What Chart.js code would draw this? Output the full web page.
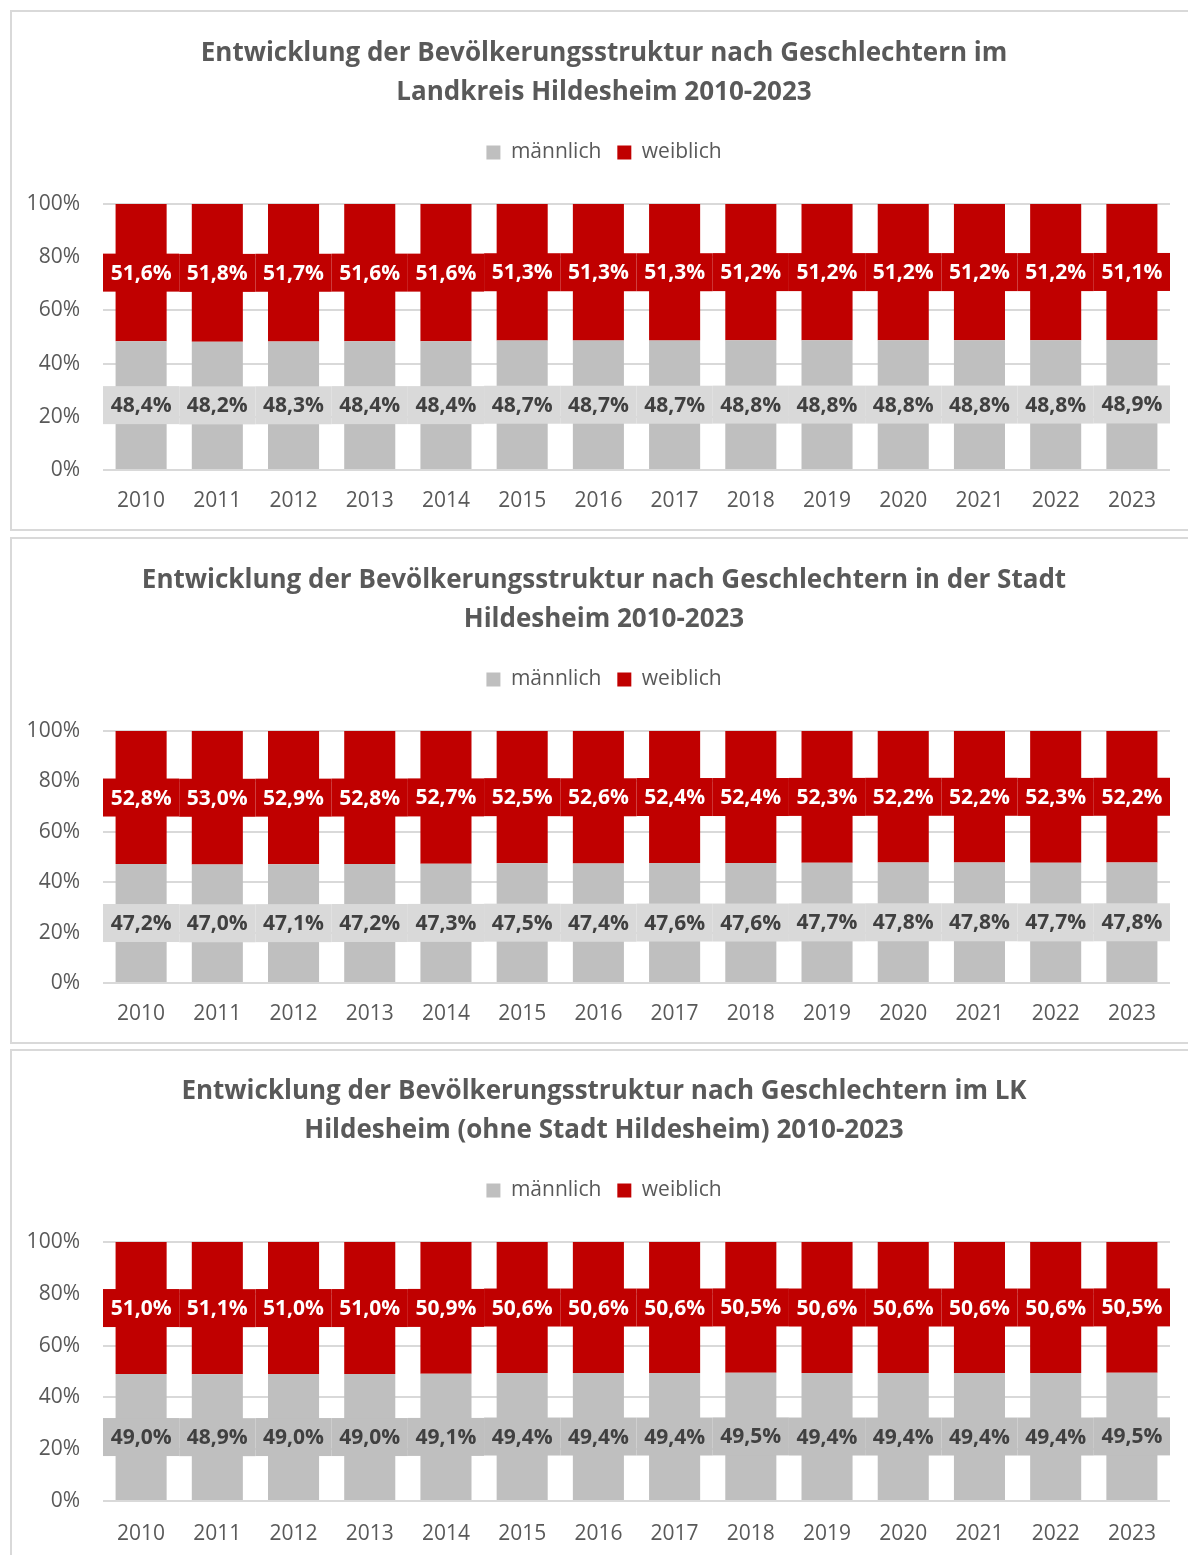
<!DOCTYPE html>
<html lang="de">
<head>
<meta charset="utf-8">
<title>Bevölkerungsstruktur nach Geschlechtern</title>
<script src="https://cdn.jsdelivr.net/npm/chart.js@4.4.1/dist/chart.umd.min.js"></script>
<style>
  html, body { margin: 0; padding: 0; background: #fff; overflow: hidden; }
  body { width: 1188px; height: 1555px; position: relative; }
  .panel { position: absolute; left: 10px; width: 1182px; border: 2px solid #d9d9d9; background: #fff; }
  .panel canvas { display: block; }
</style>
</head>
<body>
<div class="panel" style="top:10px;"><canvas id="chart-lk" width="1178" height="517"></canvas></div>
<div class="panel" style="top:537px;"><canvas id="chart-stadt" width="1178" height="503"></canvas></div>
<div class="panel" style="top:1049px;"><canvas id="chart-ohne" width="1178" height="510"></canvas></div>

<script>
const YEARS = ['2010','2011','2012','2013','2014','2015','2016','2017','2018','2019','2020','2021','2022','2023'];

// Landkreis Hildesheim
const LK_MAENNLICH = [48.4, 48.2, 48.3, 48.4, 48.4, 48.7, 48.7, 48.7, 48.8, 48.8, 48.8, 48.8, 48.8, 48.9];
const LK_WEIBLICH  = [51.6, 51.8, 51.7, 51.6, 51.6, 51.3, 51.3, 51.3, 51.2, 51.2, 51.2, 51.2, 51.2, 51.1];

// Stadt Hildesheim
const STADT_MAENNLICH = [47.2, 47.0, 47.1, 47.2, 47.3, 47.5, 47.4, 47.6, 47.6, 47.7, 47.8, 47.8, 47.7, 47.8];
const STADT_WEIBLICH  = [52.8, 53.0, 52.9, 52.8, 52.7, 52.5, 52.6, 52.4, 52.4, 52.3, 52.2, 52.2, 52.3, 52.2];

// LK ohne Stadt Hildesheim
const OHNE_MAENNLICH = [49.0, 48.9, 49.0, 49.0, 49.1, 49.4, 49.4, 49.4, 49.5, 49.4, 49.4, 49.4, 49.4, 49.5];
const OHNE_WEIBLICH  = [51.0, 51.1, 51.0, 51.0, 50.9, 50.6, 50.6, 50.6, 50.5, 50.6, 50.6, 50.6, 50.6, 50.5];

const Y_TICKS = [0, 20, 40, 60, 80, 100];

const GRAU = '#BFBFBF';
const ROT  = '#C00000';
const TEXT = '#595959';
const FONT = "'Open Sans', 'Noto Sans', sans-serif";

const fmt = v => v.toFixed(1).replace('.', ',') + '%';

// extra space below the legend
const legendGap = {
  id: 'legendGap',
  beforeInit(chart, args, opts) {
    const fit = chart.legend.fit;
    chart.legend.fit = function () {
      fit.call(this);
      this.height += opts.gap || 0;
    };
  }
};

// value labels on a box that is as wide as the category
const boxLabels = {
  id: 'boxLabels',
  afterDatasetsDraw(chart, args, opts) {
    const { ctx, chartArea } = chart;
    const catW = (chartArea.right - chartArea.left) / chart.data.labels.length;
    ctx.save();
    ctx.font = `bold 21px ${FONT}`;
    ctx.textAlign = 'center';
    ctx.textBaseline = 'middle';
    chart.data.datasets.forEach((ds, i) => {
      const meta = chart.getDatasetMeta(i);
      meta.data.forEach((bar, j) => {
        const yMid = (bar.y + bar.base) / 2;
        ctx.fillStyle = opts.bg[i];
        ctx.fillRect(bar.x - catW / 2, yMid - 19, catW, 38);
        ctx.fillStyle = opts.color[i];
        ctx.fillText(fmt(ds.data[j]), bar.x, yMid + 1);
      });
    });
    ctx.restore();
  }
};

function makeChart(id, titel, maennlich, weiblich, cfg) {
  return new Chart(document.getElementById(id), {
    type: 'bar',
    data: {
      labels: YEARS,
      datasets: [
        { label: 'männlich', data: maennlich, backgroundColor: GRAU, barPercentage: 0.67, categoryPercentage: 1 },
        { label: 'weiblich', data: weiblich,  backgroundColor: ROT,  barPercentage: 0.67, categoryPercentage: 1 },
      ],
    },
    options: {
      responsive: false,
      animation: false,
      layout: { padding: { left: 26, right: 20, top: 0, bottom: cfg.padBottom } },
      plugins: {
        title: {
          display: true,
          text: titel,
          color: TEXT,
          font: { family: FONT, size: 26, weight: 'bold', lineHeight: 1.5 },
          padding: { top: cfg.titleTop, bottom: 14 },
        },
        legend: {
          position: 'top',
          labels: {
            color: TEXT,
            font: { family: FONT, size: 21 },
            boxWidth: 14,
            boxHeight: 14,
            padding: 16,
          },
        },
        legendGap: { gap: 31 },
        tooltip: { enabled: false },
        boxLabels: { bg: [cfg.maleLabelBg, ROT], color: ['#404040', '#ffffff'] },
      },
      scales: {
        x: {
          stacked: true,
          afterFit: s => { s.height = cfg.xPad + 24; },
          grid: { display: false, drawTicks: false },
          border: { display: false },
          ticks: { color: TEXT, font: { family: FONT, size: 21 }, padding: cfg.xPad, maxRotation: 0 },
        },
        y: {
          stacked: true,
          min: 0,
          max: 100,
          afterFit: s => { s.width = 65; },
          // tick labels reach into the left padding, so no clipping to the scale box
          afterUpdate: s => { s._computeLabelArea = () => undefined; },
          afterBuildTicks: s => { s.ticks = Y_TICKS.map(v => ({ value: v })); },
          grid: { color: '#d9d9d9', lineWidth: 2, drawTicks: false },
          border: { display: false },
          ticks: { color: TEXT, font: { family: FONT, size: 21 }, padding: 23, callback: v => v + '%' },
        },
      },
    },
    plugins: [legendGap, boxLabels],
  });
}

makeChart('chart-lk',
  ['Entwicklung der Bevölkerungsstruktur nach Geschlechtern im', 'Landkreis Hildesheim 2010-2023'],
  LK_MAENNLICH, LK_WEIBLICH,
  { titleTop: 22, xPad: 18, padBottom: 17, maleLabelBg: '#D9D9D9' });

makeChart('chart-stadt',
  ['Entwicklung der Bevölkerungsstruktur nach Geschlechtern in der Stadt', 'Hildesheim 2010-2023'],
  STADT_MAENNLICH, STADT_WEIBLICH,
  { titleTop: 22, xPad: 18, padBottom: 17, maleLabelBg: '#D9D9D9' });

makeChart('chart-ohne',
  ['Entwicklung der Bevölkerungsstruktur nach Geschlechtern im LK', 'Hildesheim (ohne Stadt Hildesheim) 2010-2023'],
  OHNE_MAENNLICH, OHNE_WEIBLICH,
  { titleTop: 21, xPad: 20, padBottom: 16, maleLabelBg: GRAU });
</script>
</body>
</html>
